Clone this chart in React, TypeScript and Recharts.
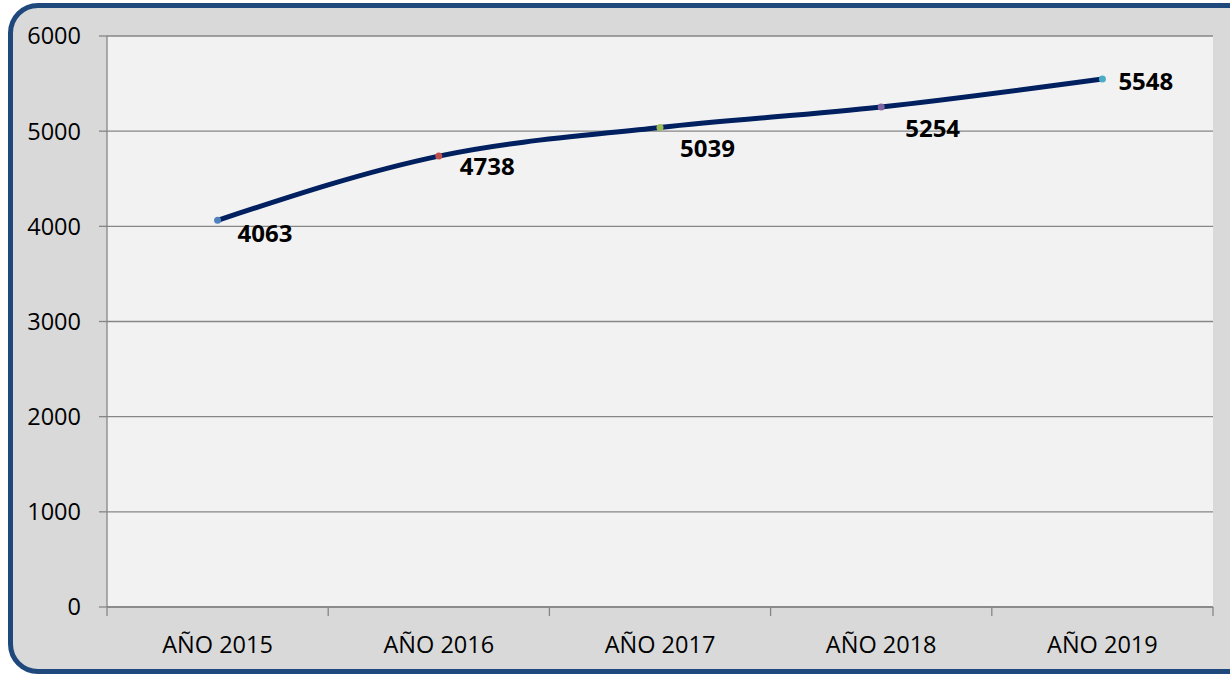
import { LineChart, Line, XAxis, YAxis, CartesianGrid, LabelList } from 'recharts';

const years = ['AÑO 2015', 'AÑO 2016', 'AÑO 2017', 'AÑO 2018', 'AÑO 2019'];
const totals = [4063, 4738, 5039, 5254, 5548];
const yTicks = [0, 1000, 2000, 3000, 4000, 5000, 6000];

// Excel-style per-point marker colours and label nudges
const DOT_COLORS = ['#4f81bd', '#c0504d', '#9bbb59', '#8064a2', '#4bacc6'];
const LABEL_OFFSETS = [
  [20, 12],
  [21, 9],
  [20, 20],
  [24, 21],
  [16, 1],
];

const FONT = '"Open Sans", sans-serif';
const GRID = '#868686';
const HALF_BAND = 110.6;

const data = years.map((year, i) => ({ year, total: totals[i] }));

function Dot(props: any) {
  const { cx, cy, index } = props;
  if (cx == null || cy == null) return null;
  return <circle cx={cx} cy={cy} r={3.5} fill={DOT_COLORS[index]} stroke="none" />;
}

function ValueLabel(props: any) {
  const { x, y, value, index } = props;
  const [dx, dy] = LABEL_OFFSETS[index] || [16, 0];
  return (
    <text
      x={x + dx}
      y={y + dy}
      dominantBaseline="central"
      fontFamily={FONT}
      fontWeight="bold"
      fontSize={24}
      fill="#000"
    >
      {value}
    </text>
  );
}

// category label in the middle, tick marks on the band edges (Excel "between" style)
function YearTick(props: any) {
  const { x, y, payload, index, visibleTicksCount } = props;
  const last = index === visibleTicksCount - 1;
  return (
    <g>
      <line x1={x - HALF_BAND} x2={x - HALF_BAND} y1={y} y2={y + 9} stroke={GRID} strokeWidth={1.3} />
      {last && <line x1={x + HALF_BAND} x2={x + HALF_BAND} y1={y} y2={y + 9} stroke={GRID} strokeWidth={1.3} />}
      <text x={x} y={y + 29} dy="0.71em" textAnchor="middle" fontFamily={FONT} fontSize={23.5} fill="#000">
        {payload.value}
      </text>
    </g>
  );
}

export default function App() {
  return (
    <div style={{ position: 'absolute', left: 0, top: 0, width: 1230, height: 674, overflow: 'hidden', background: '#fff' }}>
      <div
        style={{
          position: 'absolute',
          left: 8,
          top: 3,
          width: 1260,
          height: 671,
          boxSizing: 'border-box',
          border: '5px solid #1f497d',
          borderRadius: 30,
          background: '#d9d9d9',
        }}
      />
      <div style={{ position: 'absolute', left: 0, top: 0 }}>
        <LineChart width={1230} height={674} data={data} margin={{ top: 36, right: 17, left: 0, bottom: 0 }}>
          <CartesianGrid vertical={false} stroke={GRID} strokeWidth={1.3} fill="#f2f2f2" />
          <XAxis
            dataKey="year"
            padding={{ left: HALF_BAND, right: HALF_BAND }}
            tickLine={false}
            tickSize={0}
            tickMargin={0}
            axisLine={{ stroke: GRID, strokeWidth: 1.3 }}
            tick={<YearTick />}
            height={67}
            interval={0}
          />
          <YAxis
            domain={[0, 6000]}
            ticks={yTicks}
            width={107}
            tickSize={8}
            tickMargin={18}
            axisLine={{ stroke: GRID, strokeWidth: 1.3 }}
            tickLine={{ stroke: GRID, strokeWidth: 1.3 }}
            tick={{ fill: '#000', fontFamily: FONT, fontSize: 23.5 }}
          />
          <Line
            type="monotone"
            dataKey="total"
            stroke="#002060"
            strokeWidth={5}
            dot={<Dot />}
            activeDot={false}
            isAnimationActive={false}
          >
            <LabelList dataKey="total" content={<ValueLabel />} />
          </Line>
        </LineChart>
      </div>
    </div>
  );
}
